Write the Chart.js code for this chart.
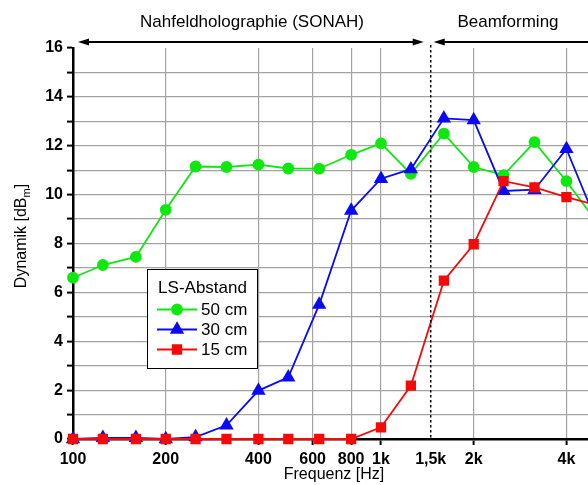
<!DOCTYPE html>
<html lang="de">
<head>
    <meta charset="UTF-8">
    <title>Dynamik über Frequenz</title>
    <script src="https://cdn.jsdelivr.net/npm/chart.js"></script>
    <style>
        body { margin: 0; overflow: hidden; background: #ffffff; }
        #wrap { width: 700px; height: 485px; }
        canvas { display: block; }
    </style>
</head>
<body>
    <div id="wrap"><canvas id="dynChart" width="700" height="485"></canvas></div>

    <script>
        // Terzband-Frequenzen und Dynamik-Werte
        const freqs = [100, 125, 160, 200, 250, 315, 400, 500, 630, 800, 1000, 1250, 1600, 2000, 2500, 3150, 4000, 5000];
        const dyn50 = [6.6, 7.12, 7.45, 9.38, 11.15, 11.13, 11.23, 11.07, 11.06, 11.63, 12.1, 10.85, 12.5, 11.13, 10.8, 12.15, 10.55, 8.9];
        const dyn30 = [0, 0.05, 0.05, 0, 0.08, 0.56, 1.98, 2.52, 5.5, 9.35, 10.65, 11.04, 13.12, 13.05, 10.15, 10.2, 11.87, 8.9];
        const dyn15 = [0, 0, 0, 0, 0, 0, 0, 0, 0, 0, 0.48, 2.18, 6.48, 7.97, 10.55, 10.3, 9.9, 9.57];

        const seriesNames = ['50 cm', '30 cm', '15 cm'];
        const xTickValues = [100, 200, 400, 600, 800, 1000, 1450, 2000, 4000, 6000, 8000, 10000];
        const xTickLabels = ['100', '200', '400', '600', '800', '1k', '1,5k', '2k', '4k', '6k', '8k', ''];
        const splitFreq = 1450;   // Grenze SONAH / Beamforming
        const rangeLabels = ['Nahfeldholographie (SONAH)', 'Beamforming'];
        const xTitle = 'Frequenz [Hz]';

        const FONT = '"Liberation Sans", Arial, Helvetica, sans-serif';
        const GRID = '#a3a3a3';

        function pts(vals) {
            return freqs.map((f, i) => ({ x: f, y: vals[i] }));
        }

        // Beschriftung, Pfeile, Trennlinie, Legende, Achsentitel
        const overlay = {
            id: 'overlay',
            afterDraw(chart) {
                const ctx = chart.ctx;
                const xs = chart.scales.x;
                const area = chart.chartArea;
                const xSplit = xs.getPixelForValue(splitFreq);
                const arrowY = area.top - 6;

                ctx.save();
                // gestrichelte Trennlinie
                ctx.strokeStyle = '#000';
                ctx.lineWidth = 1.5;
                ctx.setLineDash([2.5, 2.5]);
                ctx.beginPath();
                ctx.moveTo(xSplit, area.top - 3);
                ctx.lineTo(xSplit, area.bottom);
                ctx.stroke();
                ctx.setLineDash([]);

                // Pfeile
                function arrow(x1, x2) {
                    ctx.lineWidth = 2;
                    ctx.beginPath();
                    ctx.moveTo(x1 + 6, arrowY);
                    ctx.lineTo(x2 - 6, arrowY);
                    ctx.stroke();
                    ctx.fillStyle = '#000';
                    ctx.beginPath();
                    ctx.moveTo(x1, arrowY);
                    ctx.lineTo(x1 + 11, arrowY - 3.5);
                    ctx.lineTo(x1 + 11, arrowY + 3.5);
                    ctx.closePath();
                    ctx.fill();
                    ctx.beginPath();
                    ctx.moveTo(x2, arrowY);
                    ctx.lineTo(x2 - 11, arrowY - 3.5);
                    ctx.lineTo(x2 - 11, arrowY + 3.5);
                    ctx.closePath();
                    ctx.fill();
                }
                arrow(area.left + 5, xSplit - 7);
                arrow(xSplit + 3, xs.getPixelForValue(10000) - 30);

                ctx.fillStyle = '#000';
                ctx.font = '17px ' + FONT;
                ctx.textAlign = 'center';
                ctx.textBaseline = 'alphabetic';
                ctx.fillText(rangeLabels[0], 252, 27);
                ctx.fillText(rangeLabels[1], 508, 27);

                // x-Titel
                ctx.font = '16px ' + FONT;
                ctx.textBaseline = 'middle';
                ctx.fillText(xTitle, 334, 475);

                // y-Titel mit Index m
                ctx.translate(22, 236);
                ctx.rotate(-Math.PI / 2);
                ctx.textAlign = 'left';
                const t1 = 'Dynamik [dB', t3 = ']';
                ctx.font = '11px ' + FONT;
                const wSub = ctx.measureText('m').width;
                ctx.font = '16px ' + FONT;
                const w1 = ctx.measureText(t1).width;
                const w3 = ctx.measureText(t3).width;
                const x0 = -(w1 + wSub + w3) / 2;
                ctx.fillText(t1, x0, 0);
                ctx.font = '11px ' + FONT;
                ctx.fillText('m', x0 + w1, 5);
                ctx.font = '16px ' + FONT;
                ctx.fillText(t3, x0 + w1 + wSub, 0);
                ctx.restore();

                // Legende
                ctx.save();
                const bx = 147.5, by = 269.5, bw = 110, bh = 99;
                ctx.fillStyle = '#fff';
                ctx.fillRect(bx, by, bw, bh);
                ctx.strokeStyle = '#000';
                ctx.lineWidth = 1;
                ctx.strokeRect(bx, by, bw, bh);
                ctx.fillStyle = '#000';
                ctx.font = '17px ' + FONT;
                ctx.textAlign = 'center';
                ctx.textBaseline = 'middle';
                ctx.fillText('LS-Abstand', 202.5, 288);
                const rows = [309.5, 329.5, 349.5];
                ctx.textAlign = 'left';
                chart.data.datasets.forEach((ds, i) => {
                    const y = rows[i];
                    ctx.strokeStyle = ds.borderColor;
                    ctx.lineWidth = ds.borderWidth;
                    ctx.beginPath();
                    ctx.moveTo(157, y);
                    ctx.lineTo(197, y);
                    ctx.stroke();
                    ctx.fillStyle = ds.pointBackgroundColor;
                    ctx.strokeStyle = ds.pointBorderColor;
                    Chart.helpers.drawPoint(ctx, {
                        pointStyle: ds.pointStyle,
                        radius: ds.pointRadius,
                        rotation: 0,
                        borderWidth: 1
                    }, 177, y);
                    ctx.fillStyle = '#000';
                    ctx.font = '17px ' + FONT;
                    ctx.fillText(seriesNames[i], 201, y + 1);
                });
                ctx.restore();
            }
        };

        const ctx = document.getElementById('dynChart').getContext('2d');
        const dynChart = new Chart(ctx, {
            type: 'line',
            data: {
                datasets: [{
                    label: seriesNames[0],
                    data: pts(dyn50),
                    borderColor: '#0ee80e',
                    pointBackgroundColor: '#0ee80e',
                    pointBorderColor: '#0ee80e',
                    borderWidth: 1.8,
                    pointStyle: 'circle',
                    pointRadius: 5,
                    order: 2,
                    clip: false
                }, {
                    label: seriesNames[1],
                    data: pts(dyn30),
                    borderColor: '#0a0af5',
                    pointBackgroundColor: '#0a0af5',
                    pointBorderColor: '#0a0af5',
                    borderWidth: 1.8,
                    pointStyle: 'triangle',
                    pointRadius: 6.5,
                    order: 1,
                    clip: false
                }, {
                    label: seriesNames[2],
                    data: pts(dyn15),
                    borderColor: '#f50a0a',
                    pointBackgroundColor: '#f50a0a',
                    pointBorderColor: '#f50a0a',
                    borderWidth: 1.8,
                    pointStyle: 'rect',
                    pointRadius: 6,
                    order: 0,
                    clip: false
                }]
            },
            options: {
                responsive: false,
                animation: false,
                layout: { padding: { left: 0, top: 48, right: 11, bottom: 0 } },
                plugins: {
                    legend: { display: false },
                    tooltip: { enabled: false }
                },
                scales: {
                    x: {
                        type: 'logarithmic',
                        min: 100,
                        max: 10000,
                        afterBuildTicks: (s) => { s.ticks = xTickValues.map(v => ({ value: v })); },
                        afterFit: (s) => { s.height = 46; },
                        ticks: {
                            autoSkip: false,
                            maxRotation: 0,
                            padding: 5,
                            color: '#000',
                            font: { family: FONT, size: 16, weight: 'bold' },
                            callback: (v) => {
                                const i = xTickValues.indexOf(v);
                                return i >= 0 ? xTickLabels[i] : '';
                            }
                        },
                        grid: {
                            color: (c) => (c.tick && (c.tick.value === 100 || c.tick.value === splitFreq)) ? 'rgba(0,0,0,0)' : GRID,
                            tickColor: (c) => (c.tick && c.tick.value === splitFreq) ? 'rgba(0,0,0,0)' : '#000',
                            tickLength: 6,
                            tickWidth: 2,
                            lineWidth: 1.2
                        },
                        border: { display: true, color: '#000', width: 2.5 }
                    },
                    y: {
                        min: 0,
                        max: 16,
                        afterFit: (s) => { s.width = 73; },
                        ticks: {
                            stepSize: 1,
                            autoSkip: false,
                            padding: 4,
                            color: '#000',
                            font: { family: FONT, size: 16, weight: 'bold' },
                            callback: (v) => (v % 2 === 0 ? String(v) : '')
                        },
                        grid: {
                            color: (c) => (c.tick && (c.tick.value === 0 || c.tick.value === 16)) ? 'rgba(0,0,0,0)' : GRID,
                            tickColor: '#000',
                            tickLength: 6,
                            tickWidth: 2,
                            lineWidth: 1.2
                        },
                        border: { display: true, color: '#000', width: 2.5 }
                    }
                }
            },
            plugins: [overlay]
        });
    </script>
</body>
</html>
